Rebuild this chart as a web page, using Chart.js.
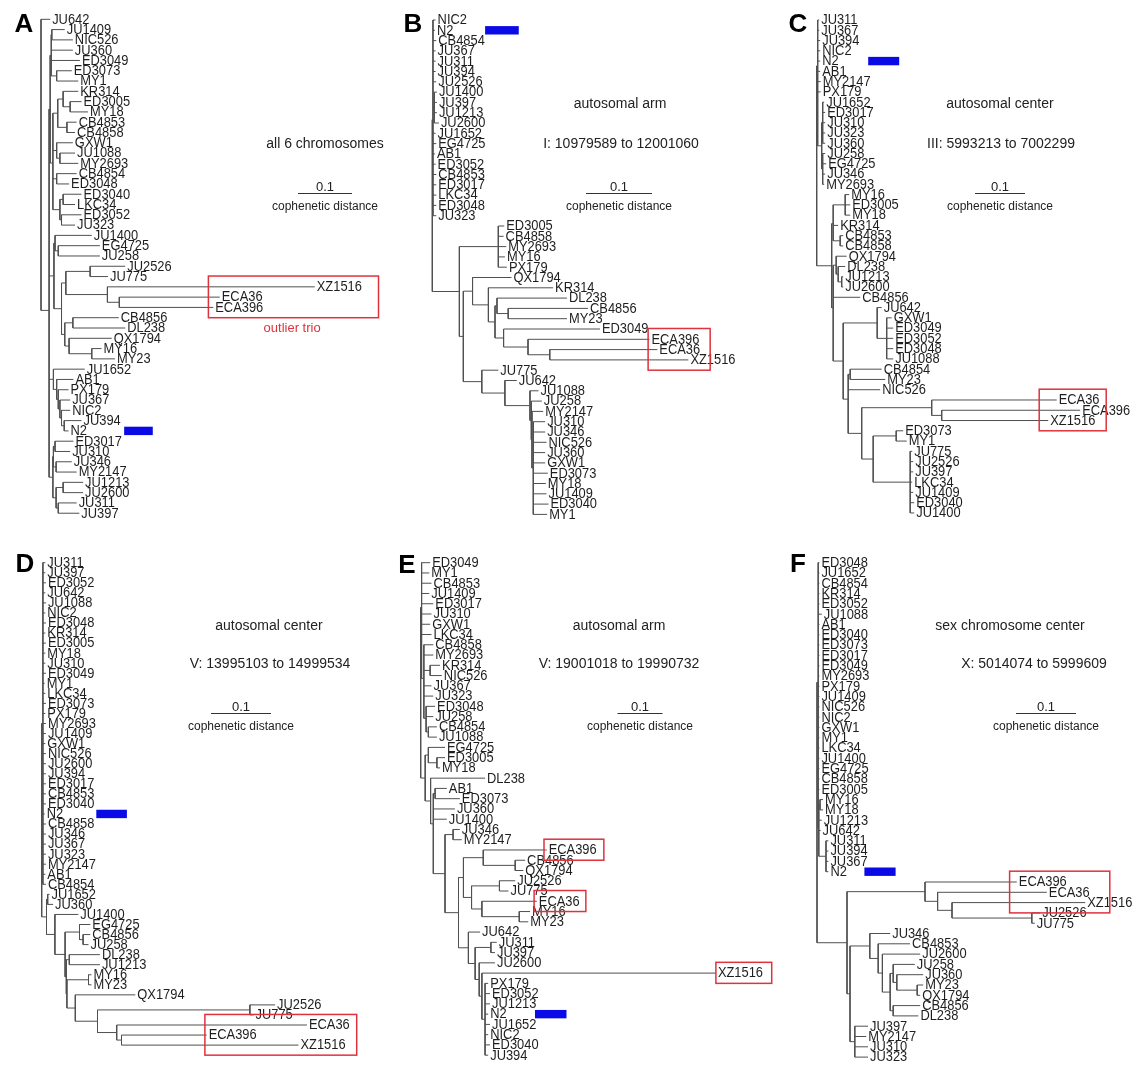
<!DOCTYPE html>
<html lang="en">
<head>
<meta charset="UTF-8">
<title>Cophenetic distance trees</title>
<script src="https://cdn.jsdelivr.net/npm/chart.js"></script>
<style>
  body { margin: 0; background: #fff; font-family: "Liberation Sans", Arial, sans-serif; }
  #fig { position: relative; width: 1143px; height: 1065px; overflow: hidden; }
  #fig canvas { position: absolute; }
  .txt { position: absolute; transform: translate(-50%, -50%); white-space: nowrap; color: #222; }
  .title { font-size: 14px; }
  .unit { font-size: 13px; }
  .axis { font-size: 12px; }
  .letter { font-size: 26px; font-weight: bold; color: #000; }
</style>
</head>
<body>
<div id="fig"></div>
<script>
// trees: name:value where value = cophenetic distance of the node from the root
const treeA = `(JU642:0.017,
 ((((JU1409:0.044,NIC526:0.059):0.020,JU360:0.059,ED3049:0.072,(ED3073:0.057,MY1:0.069):0.029):0.019,
   (((KR314:0.069,(ED3005:0.075,MY18:0.087):0.054):0.041,(CB4853:0.066,CB4858:0.063):0.048):0.031,
    (GXW1:0.059,(JU1088:0.063,MY2693:0.069):0.035):0.029,
    (CB4854:0.066,ED3048:0.052):0.029,
    ((ED3040:0.075,LKC34:0.063):0.041,(ED3052:0.075,JU323:0.063):0.038):0.035):0.022):0.017,
  ((JU1400:0.094,(EG4725:0.109,JU258:0.109):0.032):0.026,
   (((JU2526:0.156,JU775:0.124):0.091,(XZ1516:0.507,(ECA36:0.331,ECA396:0.319):0.145):0.123):0.046,
    ((CB4856:0.144,DL238:0.156):0.059,(QX1794:0.131,(MY16:0.112,MY23:0.137):0.094):0.052):0.044):0.038):0.024,
  (JU1652:0.081,(AB1:0.060,(PX179:0.051,(JU367:0.054,(NIC2:0.054,(JU394:0.075,N2:0.051):0.043):0.038):0.035):0.032):0.029):0.023,
  (((ED3017:0.060,JU310:0.054):0.026,(JU346:0.057,MY2147:0.066):0.028):0.023,((JU1213:0.078,JU2600:0.078):0.041,(JU311:0.066,JU397:0.071):0.032):0.028):0.022
 ):0.015)`;

const treeB = `((NIC2:0.005,N2:0.004,CB4854:0.006,JU367:0.005,JU311:0.005,JU394:0.005,JU2526:0.006,(JU1400:0.007,JU397:0.007,JU1213:0.007,JU2600:0.010):0.003,JU1652:0.005,EG4725:0.006,AB1:0.004,ED3052:0.005,CB4853:0.006,ED3017:0.006,LKC34:0.006,ED3048:0.006,JU323:0.006):0.001,
 ((ED3005:0.109,CB4858:0.108,MY2693:0.112,MY16:0.110,PX179:0.113):0.100,
  ((QX1794:0.120,(KR314:0.183,((DL238:0.204,(CB4856:0.236,MY23:0.204):0.115):0.098,(ED3049:0.254,(ECA396:0.329,(ECA36:0.341,XZ1516:0.388):0.178):0.145):0.108):0.095):0.085):0.061,
   (JU775:0.100,(JU642:0.128,(JU1088:0.161,(JU258:0.166,(MY2147:0.168,(JU310:0.171,JU346:0.171,NIC526:0.173,JU360:0.171,GXW1:0.171,ED3073:0.175,MY18:0.172,JU1409:0.173,ED3040:0.176,MY1:0.174):0.153):0.151):0.150):0.148):0.110):0.075
  ):0.047
 ):0.041)`;

const treeC = `((JU311:0.005,JU367:0.005,JU394:0.007,NIC2:0.007,N2:0.007,AB1:0.007,MY2147:0.008,PX179:0.008,((JU1652:0.015,ED3017:0.017,JU310:0.017,JU323:0.017,JU360:0.017):0.012,(JU258:0.017,EG4725:0.019,JU346:0.017,MY2693:0.015):0.012):0.010):0.002,
 (((MY16:0.065,ED3005:0.067,MY18:0.067):0.057,KR314:0.043,(CB4853:0.053,CB4858:0.053):0.047):0.033,
  ((QX1794:0.060,(DL238:0.057,(JU1213:0.053,JU2600:0.053):0.050):0.043):0.039,CB4856:0.087,
   ((JU642:0.130,(GXW1:0.150,ED3049:0.153,ED3052:0.153,ED3048:0.153,JU1088:0.153):0.140):0.121,
    ((CB4854:0.130,MY23:0.137):0.067,NIC526:0.127,
     ((ECA36:0.480,(ECA396:0.527,XZ1516:0.463):0.250):0.230,((ED3073:0.173,MY1:0.180):0.159,(JU775:0.191,JU2526:0.193,JU397:0.193,LKC34:0.191,JU1409:0.193,ED3040:0.195,JU1400:0.195):0.187):0.113):0.090
    ):0.063
   ):0.053
  ):0.033
 ):0.030)`;

const treeD = `((JU311:0.006,JU397:0.006,ED3052:0.007,JU642:0.006,JU1088:0.007,NIC2:0.006,ED3048:0.007,KR314:0.006,ED3005:0.007,MY18:0.006,JU310:0.006,ED3049:0.007,MY1:0.005,LKC34:0.006,ED3073:0.007,PX179:0.006,MY2693:0.007,JU1409:0.007,GXW1:0.006,NIC526:0.007,JU2600:0.007,JU394:0.007,ED3017:0.007,CB4853:0.007,ED3040:0.007,N2:0.005,CB4858:0.007,JU346:0.007,JU367:0.007,JU323:0.007,MY2147:0.007,AB1:0.006,CB4854:0.007):0.002,
 ((JU1652:0.013,JU360:0.019):0.010,
  (JU1400:0.061,
   ((EG4725:0.081,(CB4856:0.081,JU258:0.078):0.069):0.063,
    ((DL238:0.097,JU1213:0.097):0.046,
     ((MY16:0.083,MY23:0.083):0.078,
      (QX1794:0.156,
       ((JU2526:0.389,JU775:0.353):0.347,(ECA36:0.442,(ECA396:0.275,XZ1516:0.428):0.133):0.125):0.093
      ):0.056
     ):0.042
    ):0.041
   ):0.039
  ):0.022
 ):0.008)`;

const treeE = `((ED3049:0.021,MY1:0.019,CB4853:0.024,JU1409:0.019,ED3017:0.028,JU310:0.024,GXW1:0.021,LKC34:0.024,(CB4858:0.028,MY2693:0.028,(KR314:0.043,NIC526:0.047):0.021,JU367:0.024,JU323:0.028,(ED3048:0.032,JU258:0.028,(CB4854:0.036,JU1088:0.036):0.017):0.012):0.007):0.002,
 ((EG4725:0.054,(ED3005:0.054,MY18:0.043):0.036):0.017,
  (DL238:0.143,
   ((AB1:0.058,ED3073:0.087):0.032,JU360:0.076,JU1400:0.058,
    ((JU346:0.087,MY2147:0.091):0.072,
     (((ECA396:0.280,(CB4856:0.232,QX1794:0.228):0.210):0.139,((JU2526:0.210,JU775:0.195):0.175,(ECA36:0.258,(MY16:0.243,MY23:0.239):0.219):0.136):0.113):0.095,
      (JU642:0.132,((JU311:0.169,JU397:0.165):0.156,(JU2600:0.165,(XZ1516:0.656,(PX179:0.150,ED3052:0.154,JU1213:0.154,N2:0.150,JU1652:0.154,NIC2:0.150,ED3040:0.154,JU394:0.150):0.143):0.136):0.130):0.121):0.106
     ):0.084
    ):0.054
   ):0.028
  ):0.022
 ):0.010)`;

const treeF = `((ED3048:0.004,JU1652:0.004,CB4854:0.004,KR314:0.004,ED3052:0.004,JU1088:0.008,AB1:0.004,ED3040:0.004,ED3073:0.004,ED3017:0.004,ED3049:0.004,MY2693:0.004,PX179:0.004,JU1409:0.004,NIC526:0.004,NIC2:0.004,GXW1:0.004,MY1:0.004,LKC34:0.004,JU1400:0.004,EG4725:0.004,CB4858:0.004,ED3005:0.004,((MY16:0.010,MY18:0.010):0.005,JU1213:0.008,JU642:0.006,(JU311:0.019,JU394:0.019,JU367:0.019,N2:0.019):0.015):0.003):0.002,
 ((ECA396:0.333,(ECA36:0.383,(XZ1516:0.447,(JU2526:0.372,JU775:0.363):0.358):0.225):0.201):0.180,
  ((JU346:0.122,(CB4853:0.155,(JU2600:0.172,((JU258:0.163,(JU360:0.177,(MY23:0.177,QX1794:0.172):0.167):0.133):0.127,(CB4856:0.172,DL238:0.169):0.127):0.122):0.109):0.102):0.088,
   (JU397:0.085,MY2147:0.082,JU310:0.085,JU323:0.085):0.063):0.055
 ):0.050)`;

// panel titles
const titlesA = ['all 6 chromosomes'];
const titlesB = ['autosomal arm', 'I: 10979589 to 12001060'];
const titlesC = ['autosomal center', 'III: 5993213 to 7002299'];
const titlesD = ['autosomal center', 'V: 13995103 to 14999534'];
const titlesE = ['autosomal arm', 'V: 19001018 to 19990732'];
const titlesF = ['sex chromosome center', 'X: 5014074 to 5999609'];
const scaleValue = 0.1;
const scaleLabel = 'cophenetic distance';

// highlighted strains (red boxes span x0..x1 in distance units)
const boxesA = [{from: 'XZ1516', to: 'ECA396', x0: 0.310, x1: 0.625}];
const boxesB = [{from: 'ECA396', to: 'XZ1516', x0: 0.327, x1: 0.421}];
const boxesC = [{from: 'ECA36', to: 'XZ1516', x0: 0.445, x1: 0.579}];
const boxesD = [{from: 'ECA36', to: 'XZ1516', x0: 0.272, x1: 0.525}];
const boxesE = [{from: 'ECA396', to: 'ECA396', x0: 0.274, x1: 0.407},
                {from: 'ECA36', to: 'ECA36', x0: 0.252, x1: 0.367},
                {from: 'XZ1516', to: 'XZ1516', x0: 0.656, x1: 0.780}];
const boxesF = [{from: 'ECA396', to: 'XZ1516', x0: 0.321, x1: 0.488}];
const noteA = {text: 'outlier trio', x: 0.465, below: 'ECA396', rows: 2};

// blue marker next to the reference strain N2
const blueA = {leaf: 'N2', x0: 0.154, x1: 0.207};
const blueB = {leaf: 'N2', x0: 0.080, x1: 0.131};
const blueC = {leaf: 'N2', x0: 0.103, x1: 0.165};
const blueD = {leaf: 'N2', x0: 0.091, x1: 0.142};
const blueE = {leaf: 'N2', x0: 0.254, x1: 0.324};
const blueF = {leaf: 'N2', x0: 0.079, x1: 0.131};

// page layout (pixels)
const panels = [
  {id: 'A', tree: treeA, titles: titlesA, boxes: boxesA, blue: blueA, note: noteA,
   left: 0, top: 0, w: 400, h: 532, root: 41, ppu: 540, row0: 19.3, step: 10.29,
   letter: [24, 23], scale: [325, 193], titleXY: [[325, 143]]},
  {id: 'B', tree: treeB, titles: titlesB, boxes: boxesB, blue: blueB,
   left: 381, top: 0, w: 400, h: 532, root: 432.3, ppu: 660, row0: 20, step: 10.3,
   letter: [413, 23], scale: [619, 193], titleXY: [[620, 103], [621, 143]]},
  {id: 'C', tree: treeC, titles: titlesC, boxes: boxesC, blue: blueC,
   left: 762, top: 0, w: 381, h: 532, root: 816.7, ppu: 500, row0: 20, step: 10.27,
   letter: [798, 23], scale: [1000, 193], titleXY: [[1000, 103], [1001, 143]]},
  {id: 'D', tree: treeD, titles: titlesD, boxes: boxesD, blue: blueD,
   left: 0, top: 532, w: 400, h: 533, root: 41.7, ppu: 600, row0: 562.7, step: 10.05,
   letter: [25, 563], scale: [241, 713], titleXY: [[269, 625], [270, 663]]},
  {id: 'E', tree: treeE, titles: titlesE, boxes: boxesE, blue: blueE,
   left: 381, top: 532, w: 400, h: 533, root: 420.7, ppu: 450, row0: 562.7, step: 10.26,
   letter: [407, 564], scale: [640, 713], titleXY: [[619, 625], [619, 663]]},
  {id: 'F', tree: treeF, titles: titlesF, boxes: boxesF, blue: blueF,
   left: 762, top: 532, w: 381, h: 533, root: 817, ppu: 600, row0: 562.7, step: 10.3,
   letter: [798, 563], scale: [1046, 713], titleXY: [[1010, 625], [1034, 663]]}
];

const FONT = '"Liberation Sans", Arial, sans-serif';

function parseTree(str) {
  const s = str.replace(/\s+/g, '');
  let i = 0;
  function node() {
    const n = {};
    if (s[i] === '(') {
      i++;
      n.children = [];
      while (true) {
        n.children.push(node());
        if (s[i] === ',') { i++; continue; }
        i++; // ')'
        break;
      }
    } else {
      const j = i;
      while (i < s.length && !':,()'.includes(s[i])) i++;
      n.name = s.slice(j, i);
    }
    n.d = 0;
    if (s[i] === ':') {
      i++;
      const j = i;
      while (i < s.length && !',()'.includes(s[i])) i++;
      n.d = parseFloat(s.slice(j, i));
    }
    return n;
  }
  return node();
}

// leaf rows in drawing order, inner nodes sit at the mean row of their children
function placeRows(root) {
  const leaves = [];
  (function walk(n) {
    if (!n.children) { n.y = leaves.length; leaves.push(n); return; }
    n.children.forEach(walk);
    n.y = n.children.reduce((a, c) => a + c.y, 0) / n.children.length;
  })(root);
  return leaves;
}

function branchPoints(root) {
  const pts = [];
  const gap = {x: null, y: null};
  (function walk(n) {
    if (!n.children) return;
    const ys = n.children.map(c => c.y);
    pts.push({x: n.d, y: Math.min(...ys)}, {x: n.d, y: Math.max(...ys)}, gap);
    n.children.forEach(c => {
      pts.push({x: n.d, y: c.y}, {x: c.d, y: c.y}, gap);
      walk(c);
    });
  })(root);
  return pts;
}

function addText(cls, text, x, y) {
  const d = document.createElement('div');
  d.className = 'txt ' + cls;
  d.textContent = text;
  d.style.left = x + 'px';
  d.style.top = y + 'px';
  document.getElementById('fig').appendChild(d);
}

function decorPlugin(p, leaves) {
  const row = {};
  leaves.forEach(l => row[l.name] = l.y);
  return {
    id: 'decor' + p.id,
    afterDatasetsDraw(chart) {
      const {ctx, scales: {x, y}} = chart;
      ctx.save();
      // strain names, a bit condensed like the original labels
      ctx.font = '14px ' + FONT;
      ctx.fillStyle = '#1e1e1e';
      ctx.textBaseline = 'middle';
      leaves.forEach(l => {
        ctx.save();
        ctx.translate(x.getPixelForValue(l.d) + 2, y.getPixelForValue(l.y) + 0.5);
        ctx.scale(0.92, 1);
        ctx.fillText(l.name, 0, 0);
        ctx.restore();
      });
      ctx.font = '13px ' + FONT;
      // red boxes
      ctx.strokeStyle = '#e0323c';
      ctx.lineWidth = 1.5;
      p.boxes.forEach(b => {
        const x0 = x.getPixelForValue(b.x0), x1 = x.getPixelForValue(b.x1);
        const y0 = y.getPixelForValue(row[b.from] - 1.05), y1 = y.getPixelForValue(row[b.to] + 1.0);
        ctx.strokeRect(x0, y0, x1 - x0, y1 - y0);
      });
      if (p.note) {
        ctx.fillStyle = '#e0323c';
        ctx.textAlign = 'center';
        ctx.fillText(p.note.text, x.getPixelForValue(p.note.x), y.getPixelForValue(row[p.note.below] + p.note.rows));
        ctx.textAlign = 'left';
      }
      // N2 marker
      const bx0 = x.getPixelForValue(p.blue.x0), bx1 = x.getPixelForValue(p.blue.x1);
      const by = y.getPixelForValue(row[p.blue.leaf]);
      ctx.fillStyle = '#0a0ae6';
      ctx.fillRect(bx0, by - 4.2, bx1 - bx0, 8.4);
      // scale bar
      const len = x.getPixelForValue(scaleValue) - x.getPixelForValue(0);
      const cx = p.scale[0] - p.left, cy = Math.round(p.scale[1] - p.top) + 0.5;
      ctx.strokeStyle = '#333';
      ctx.lineWidth = 1;
      ctx.beginPath();
      ctx.moveTo(cx - len / 2, cy);
      ctx.lineTo(cx + len / 2, cy);
      ctx.stroke();
      ctx.restore();
    }
  };
}

panels.forEach(p => {
  const root = parseTree(p.tree);
  const leaves = placeRows(root);
  const cv = document.createElement('canvas');
  cv.width = p.w;
  cv.height = p.h;
  cv.style.left = p.left + 'px';
  cv.style.top = p.top + 'px';
  document.getElementById('fig').appendChild(cv);

  const xmin = (p.left - p.root) / p.ppu;
  const ymin = (p.top - p.row0) / p.step;

  new Chart(cv, {
    type: 'scatter',
    data: {
      datasets: [{
        data: branchPoints(root),
        showLine: true,
        spanGaps: false,
        borderColor: '#505050',
        borderWidth: 1,
        pointRadius: 0,
        pointHoverRadius: 0,
        tension: 0
      }]
    },
    options: {
      responsive: false,
      animation: false,
      events: [],
      layout: {padding: 0},
      plugins: {legend: {display: false}, tooltip: {enabled: false}},
      scales: {
        x: {type: 'linear', display: false, bounds: 'data', min: xmin, max: xmin + p.w / p.ppu},
        y: {type: 'linear', display: false, bounds: 'data', reverse: true, min: ymin, max: ymin + p.h / p.step}
      }
    },
    plugins: [decorPlugin(p, leaves)]
  });

  addText('letter', p.id, p.letter[0], p.letter[1]);
  p.titles.forEach((t, k) => addText('title', t, p.titleXY[k][0], p.titleXY[k][1]));
  addText('unit', String(scaleValue), p.scale[0], p.scale[1] - 7);
  addText('axis', scaleLabel, p.scale[0], p.scale[1] + 13);
});
</script>
</body>
</html>
